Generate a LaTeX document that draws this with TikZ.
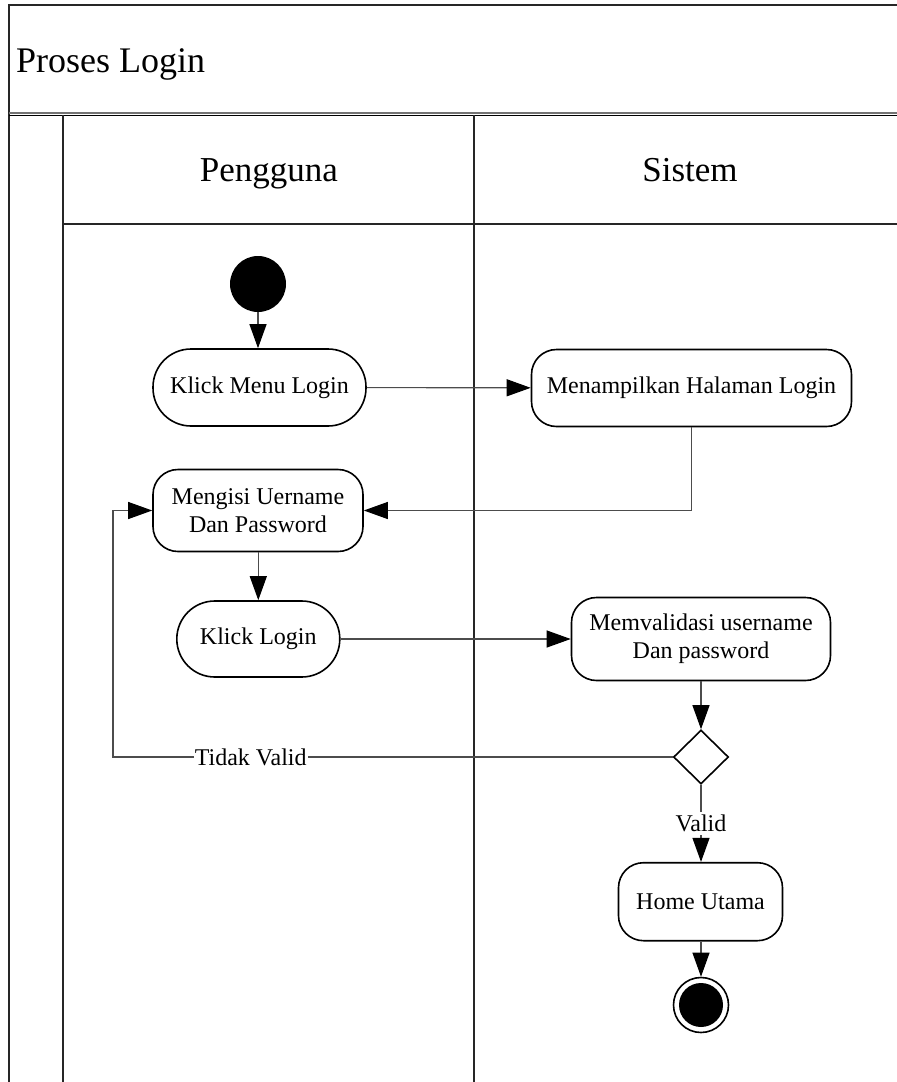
\documentclass[tikz,border=0pt]{standalone}
\usepackage{fontspec}
\setmainfont{Liberation Serif}
\usetikzlibrary{arrows.meta,shapes.geometric}
\begin{document}
\begin{tikzpicture}[x=1pt,y=-1pt,
  frameline/.style={line width=1.5pt,black!85},
  action/.style={draw,line width=1.6pt,rectangle,inner sep=0pt,align=center,
    font=\fontsize{24}{28}\selectfont,rounded corners=25pt},
  pill/.style={action,rounded corners=38pt},
  flow/.style={line width=1.1pt,black!70,
    -{Triangle[length=24pt,width=17pt,color=black]}},
  lbl/.style={fill=white,inner sep=1pt,font=\fontsize{24}{28}\selectfont,text=black}
]
\useasboundingbox (0,0) rectangle (897,1082);

% swimlane frame
\draw[frameline] (9,1082) -- (9,5) -- (897,5);
\draw[line width=1.6pt,black!55] (9,113) -- (897,113);
\draw[line width=1pt,black] (9,115.3) -- (897,115.3);
\draw[frameline] (63,115) -- (63,1082);
\draw[frameline] (474,115) -- (474,1082);
\draw[frameline] (63,224) -- (897,224);

% headings
\node[anchor=base west,inner sep=0pt,font=\fontsize{36}{40}\selectfont] (title) at (16,72) {Proses Login};
\node[anchor=base,inner sep=0pt,font=\fontsize{35}{40}\selectfont] (lane1) at (269,181.5) {Pengguna};
\node[anchor=base,inner sep=0pt,font=\fontsize{35}{40}\selectfont] (lane2) at (690,181) {Sistem};

% activity nodes
\node[circle,fill=black,minimum size=56pt,inner sep=0pt] (start) at (258,284) {};
\node[pill,minimum width=213pt,minimum height=77pt] (klikmenu) at (259.5,387.5) {Klick Menu Login};
\node[action,minimum width=320pt,minimum height=77pt] (tampil) at (691.5,388) {Menampilkan Halaman Login};
\node[action,minimum width=210pt,minimum height=82pt] (isi) at (258,510.5) {Mengisi Uername\\Dan Password};
\node[pill,minimum width=163pt,minimum height=76pt] (kliklogin) at (258.3,639) {Klick Login};
\node[action,minimum width=259pt,minimum height=83pt] (validasi) at (701,639) {Memvalidasi username\\Dan password};
\node[diamond,draw,line width=1.6pt,minimum width=55pt,minimum height=54pt,inner sep=0pt] (cek) at (701,757) {};
\node[action,minimum width=164pt,minimum height=78pt] (home) at (700.5,901.7) {Home Utama};
\node[circle,draw,line width=1.6pt,minimum size=55pt,inner sep=0pt] (stop) at (701,1005) {};
\fill (stop.center) circle (22pt);

\coordinate (balik) at (113,757);

% control flow
\draw[flow] (start.south -| 258,0) -- (klikmenu.north -| 258,0);
\draw[flow] (klikmenu) -- (tampil);
\draw[flow] (tampil.south) |- (isi.east);
\draw[flow] (isi.south -| 258.3,0) -- (kliklogin.north -| 258.3,0);
\draw[flow] (kliklogin) -- (kliklogin -| validasi.west);
\draw[flow] (validasi.south -| cek.north) -- (cek.north);
\draw[flow] (cek.west) -- node[lbl,pos=0.754] {Tidak Valid} (balik) |- (isi.west);
\draw[flow] (cek.south) -- node[lbl,pos=0.5,inner sep=3pt] {Valid} (home.north -| cek.south);
\draw[flow] (home.south -| stop.north) -- (stop.north);
\end{tikzpicture}
\end{document}
